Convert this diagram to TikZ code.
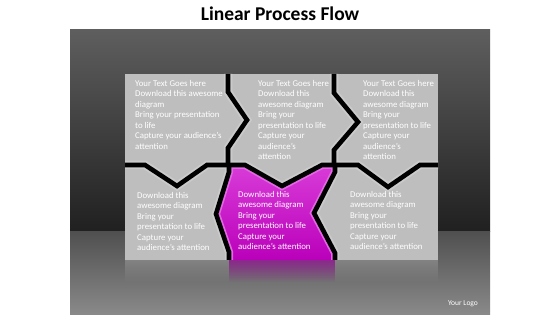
\documentclass[tikz,border=0pt]{standalone}
\usepackage{fontspec}
\setmainfont{Carlito}
\usetikzlibrary{fadings}
\tikzfading[name=reflfade, top color=transparent!40, bottom color=transparent!100]
\definecolor{tilegray}{HTML}{BEBEBE}
\definecolor{tileedge}{HTML}{CACACA}
\definecolor{magmain}{HTML}{BA00BA}
\definecolor{magtop}{HTML}{D83CD8}
\definecolor{magedge}{HTML}{E468E4}
\definecolor{paneltop}{HTML}{5E5E5E}
\definecolor{panelmid}{HTML}{202020}
\definecolor{floortop}{HTML}{505050}
\definecolor{floorbot}{HTML}{8A8A8A}
\tikzset{
  tiletext/.style={anchor=north west, inner sep=0pt, align=left, text=white,
    font=\fontsize{8.8}{10.5}\selectfont},
  border/.style={line width=4.6pt, black, line join=miter},
  bevel/.style={line width=8.5pt, line join=miter},
}
\begin{document}
\begin{tikzpicture}[x=1pt,y=-1pt]
\useasboundingbox (0,0) rectangle (560,315);
\fill[white] (0,0) rectangle (560,315);
% title
\node[font=\fontsize{19.5}{22}\selectfont\bfseries, anchor=base, inner sep=0pt] (title) at (280,21) {Linear Process Flow};
% panel
\shade[top color=paneltop, bottom color=panelmid] (70,30) rectangle (490,232);
\shade[top color=floortop, bottom color=floorbot] (70,232) rectangle (490,315);
% reflections
\fill[tilegray!80!black, path fading=reflfade] (125,260) rectangle (229,282);
\fill[magmain!90!black, path fading=reflfade] (229,260) rectangle (335,282);
\fill[tilegray!80!black, path fading=reflfade] (335,260) rectangle (438,282);
% tiles
\fill[tilegray] (125,74) rectangle (438,260);
\begin{scope}
  \clip (125,74) rectangle (438,260);
  \draw[bevel, tileedge] (228,74) -- (228,92) -- (247,120) -- (228,148) -- (228,166);
  \draw[bevel, tileedge] (334,74) -- (334,93) -- (358,122) -- (334,150) -- (334,166);
  \draw[bevel, tileedge] (125,165) -- (145,165) -- (177,186) -- (207,165) -- (245,165) -- (282,186) -- (322,165) -- (358,165) -- (388,187) -- (420,165) -- (438,165);
  \draw[bevel, tileedge] (229,165) -- (229,172) -- (216,214) -- (229,252) -- (229,260);
  \draw[bevel, tileedge] (335,165) -- (335,172) -- (314,213) -- (335,253) -- (335,260);
\end{scope}
% magenta tile
\path[top color=magtop, bottom color=magmain] (229,165) -- (245,165) -- (282,186) -- (322,165) -- (335,165) -- (335,172) -- (314,213) -- (335,253) -- (335,260) -- (229,260) -- (229,252) -- (216,214) -- (229,172) -- cycle;
\begin{scope}
  \clip (229,165) -- (245,165) -- (282,186) -- (322,165) -- (335,165) -- (335,172) -- (314,213) -- (335,253) -- (335,260) -- (229,260) -- (229,252) -- (216,214) -- (229,172) -- cycle;
  \draw[line width=8pt, magedge, line join=miter] (229,260) -- (229,252) -- (216,214) -- (229,172) -- (229,165) -- (245,165) -- (282,186) -- (322,165) -- (335,165) -- (335,172) -- (314,213) -- (335,253) -- (335,260);
\end{scope}
% borders
\draw[border] (228,74) -- (228,92) -- (247,120) -- (228,148) -- (228,166);
\draw[border] (334,74) -- (334,93) -- (358,122) -- (334,150) -- (334,166);
\draw[border] (125,165) -- (145,165) -- (177,186) -- (207,165) -- (245,165) -- (282,186) -- (322,165) -- (358,165) -- (388,187) -- (420,165) -- (438,165);
\draw[border] (229,165) -- (229,172) -- (216,214) -- (229,252) -- (229,260);
\draw[border] (335,165) -- (335,172) -- (314,213) -- (335,253) -- (335,260);
% texts
\node[tiletext] (t1) at (135,80) {Your Text Goes here\\Download this awesome\\diagram\\Bring your presentation\\to life\\Capture your audience's\\attention};
\node[tiletext] (t2) at (258,80) {Your Text Goes here\\Download this\\awesome diagram\\Bring your\\presentation to life\\Capture your\\audience's\\attention};
\node[tiletext] (t3) at (363,80) {Your Text Goes here\\Download this\\awesome diagram\\Bring your\\presentation to life\\Capture your\\audience's\\attention};
\node[tiletext] (t4) at (137,192) {Download this\\awesome diagram\\Bring your\\presentation to life\\Capture your\\audience's attention};
\node[tiletext] (t5) at (238,191) {Download this\\awesome diagram\\Bring your\\presentation to life\\Capture your\\audience's attention};
\node[tiletext] (t6) at (350,191) {Download this\\awesome diagram\\Bring your\\presentation to life\\Capture your\\audience's attention};
% logo
\node[text=white, font=\fontsize{7.5}{9}\selectfont, inner sep=0pt] (logo) at (463,304) {Your Logo};
\end{tikzpicture}
\end{document}
